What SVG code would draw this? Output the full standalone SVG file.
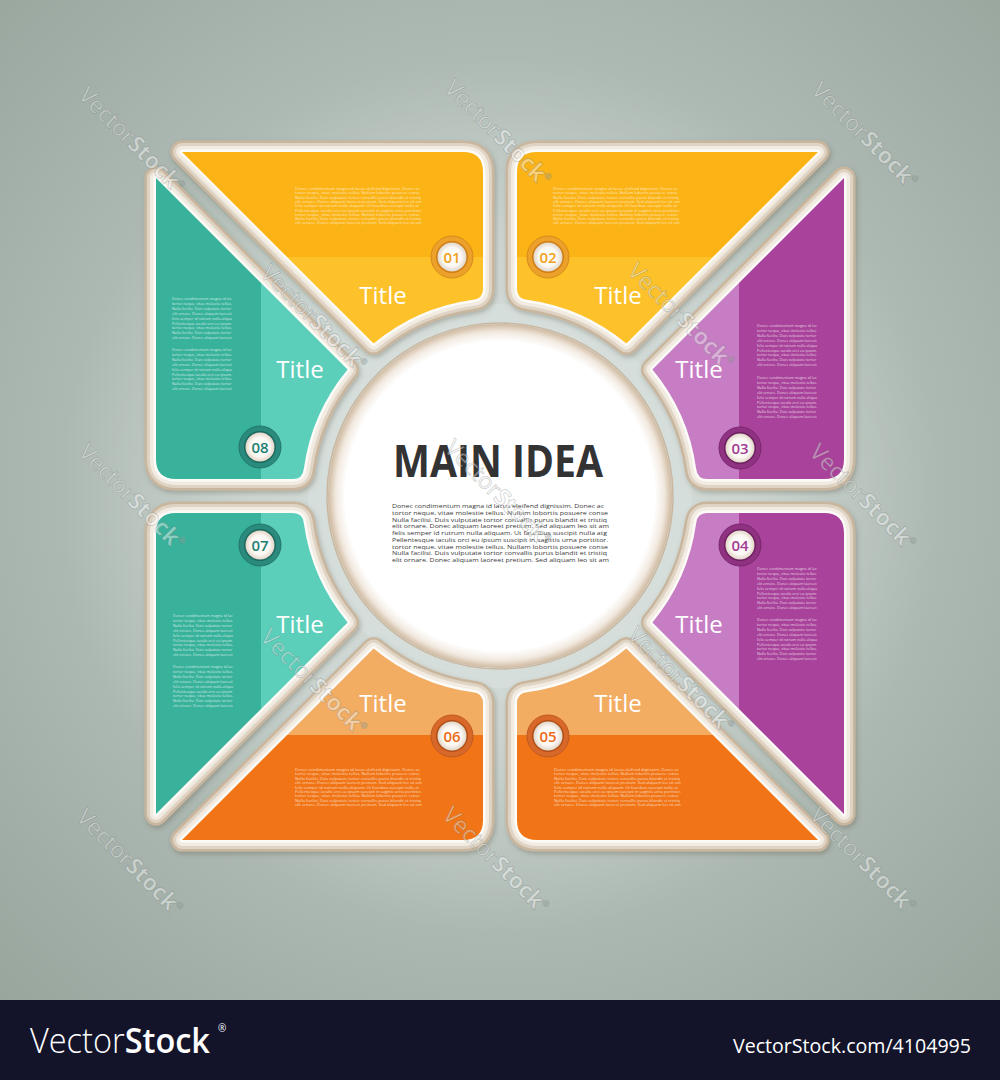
<svg xmlns="http://www.w3.org/2000/svg" xmlns:xlink="http://www.w3.org/1999/xlink" width="1000" height="1080" viewBox="0 0 1000 1080">
<defs>
  <radialGradient id="bg" cx="500" cy="480" r="720" gradientUnits="userSpaceOnUse">
    <stop offset="0" stop-color="#cdd6d2"/>
    <stop offset="0.5" stop-color="#b2bdb7"/>
    <stop offset="1" stop-color="#98a69e"/>
  </radialGradient>
  <radialGradient id="plate" cx="500" cy="496" r="440" gradientUnits="userSpaceOnUse">
    <stop offset="0" stop-color="#d8e1de" stop-opacity="1"/>
    <stop offset="0.55" stop-color="#d0d9d5" stop-opacity="0.9"/>
    <stop offset="0.8" stop-color="#c8d2ce" stop-opacity="0.45"/>
    <stop offset="1" stop-color="#c0cac6" stop-opacity="0"/>
  </radialGradient>
  <radialGradient id="cg" cx="500" cy="496" r="172" gradientUnits="userSpaceOnUse">
    <stop offset="0" stop-color="#ffffff"/>
    <stop offset="0.9" stop-color="#ffffff"/>
    <stop offset="0.955" stop-color="#f1e9df"/>
    <stop offset="1" stop-color="#cfb9a0"/>
  </radialGradient>
  <radialGradient id="bi" cx="0.5" cy="0.5" r="0.5">
    <stop offset="0" stop-color="#ffffff"/>
    <stop offset="0.65" stop-color="#fbf8f4"/>
    <stop offset="1" stop-color="#e2d6c8"/>
  </radialGradient>
  <path id="P" d="M-318,-344 L-37,-344 Q-17,-344 -17,-324 L-17,-207 Q-17,-197.3 -27,-196.2 A198,198 0 0 0 -126.4,-152.4 Z"/>
  <clipPath id="pc"><use xlink:href="#P"/></clipPath>
  <filter id="sh" x="-10%" y="-10%" width="125%" height="125%">
    <feDropShadow dx="1.5" dy="2.5" stdDeviation="2.5" flood-color="#5e5445" flood-opacity="0.35"/>
  </filter>
  <style>
    .b1{fill:none;stroke:#c9b69e;stroke-width:23;stroke-linejoin:round}
    .b2{fill:none;stroke:#dfd3c3;stroke-width:18;stroke-linejoin:round}
    .b3{fill:none;stroke:#f1ebe2;stroke-width:12;stroke-linejoin:round}
    .b4{fill:none;stroke:#fdfbf8;stroke-width:5;stroke-linejoin:round}
    .yd{fill:#fbb316}.yl{fill:#fdc22b}
    .td{fill:#37b29b}.tl{fill:#5ccfbb}
    .pd{fill:#a8429a}.pl{fill:#c77dc4}
    .od{fill:#f17512}.ol{fill:#f2ad63}
    text{font-family:"Open Sans","Liberation Sans",sans-serif}
    .ttl{font-size:24px;fill:#ffffff;text-anchor:middle}
    .num{font-size:15px;font-weight:600;text-anchor:middle}
    .sw{font-size:4.1px;fill:#ffffff;fill-opacity:0.72}
    .sn{font-size:3.75px;fill:#ffffff;fill-opacity:0.75}
    .mb{font-size:5.4px;fill:#3b3b3b}
    .wm{font-size:23px;fill:#ffffff;fill-opacity:0.42;stroke:#56625c;stroke-opacity:0.3;stroke-width:0.8;text-anchor:middle}
  </style>
</defs>

<rect width="1000" height="1000" fill="url(#bg)"/>
<circle cx="500" cy="496" r="440" fill="url(#plate)"/>
<circle cx="500" cy="496" r="192" fill="#d5dedb"/>

<!-- 01 -->
<g id="node01">
  <g filter="url(#sh)"><g transform="translate(500,496)">
    <use xlink:href="#P" class="b1"/><use xlink:href="#P" class="b2"/><use xlink:href="#P" class="b3"/><use xlink:href="#P" class="b4"/>
    <g clip-path="url(#pc)"><rect class="yd" x="-400" y="-400" width="400" height="161"/><rect class="yl" x="-400" y="-239" width="400" height="300"/></g>
  </g></g>
  <text class="sw"><tspan x="295" y="190">Donec condimentum magna id lacus eleifend dignissim. Donec ac</tspan><tspan x="295" y="194.3">tortor neque, vitae molestie tellus. Nullam lobortis posuere  conse</tspan><tspan x="295" y="198.6">Nulla facilisi. Duis vulputate tortor convallis purus blandit et tristiq</tspan><tspan x="295" y="202.9">elit ornare. Donec aliquam laoreet pretium. Sed aliquam leo sit am</tspan><tspan x="295" y="207.2">felis semper id rutrum nulla aliquam. Ut faucibus suscipit nulla at</tspan><tspan x="295" y="211.5">Pellentesque iaculis orci eu ipsum suscipit in sagittis urna porttitor.</tspan><tspan x="295" y="215.8">tortor neque, vitae molestie tellus. Nullam lobortis posuere  conse</tspan><tspan x="295" y="220.1">Nulla facilisi. Duis vulputate tortor convallis purus blandit et tristiq</tspan><tspan x="295" y="224.4">elit ornare. Donec aliquam laoreet pretium. Sed aliquam leo sit am</tspan></text>
  <circle cx="452" cy="257" r="21" fill="#eba12a" stroke="#d88a1c" stroke-width="1"/>
  <circle cx="452" cy="257" r="16" fill="#cf7b13"/>
  <circle cx="452" cy="257" r="14.5" fill="url(#bi)"/>
  <text class="num" x="452" y="262.5" fill="#f0a11b">01</text>
  <text class="ttl" x="383" y="304">Title</text>
</g>

<!-- 02 -->
<g id="node02">
  <g filter="url(#sh)"><g transform="translate(500,496) scale(-1,1)">
    <use xlink:href="#P" class="b1"/><use xlink:href="#P" class="b2"/><use xlink:href="#P" class="b3"/><use xlink:href="#P" class="b4"/>
    <g clip-path="url(#pc)"><rect class="yd" x="-400" y="-400" width="400" height="161"/><rect class="yl" x="-400" y="-239" width="400" height="300"/></g>
  </g></g>
  <text class="sw"><tspan x="553" y="190">Donec condimentum magna id lacus eleifend dignissim. Donec ac</tspan><tspan x="553" y="194.3">tortor neque, vitae molestie tellus. Nullam lobortis posuere  conse</tspan><tspan x="553" y="198.6">Nulla facilisi. Duis vulputate tortor convallis purus blandit et tristiq</tspan><tspan x="553" y="202.9">elit ornare. Donec aliquam laoreet pretium. Sed aliquam leo sit am</tspan><tspan x="553" y="207.2">felis semper id rutrum nulla aliquam. Ut faucibus suscipit nulla at</tspan><tspan x="553" y="211.5">Pellentesque iaculis orci eu ipsum suscipit in sagittis urna porttitor.</tspan><tspan x="553" y="215.8">tortor neque, vitae molestie tellus. Nullam lobortis posuere  conse</tspan><tspan x="553" y="220.1">Nulla facilisi. Duis vulputate tortor convallis purus blandit et tristiq</tspan><tspan x="553" y="224.4">elit ornare. Donec aliquam laoreet pretium. Sed aliquam leo sit am</tspan></text>
  <circle cx="548" cy="257" r="21" fill="#eba12a" stroke="#d88a1c" stroke-width="1"/>
  <circle cx="548" cy="257" r="16" fill="#cf7b13"/>
  <circle cx="548" cy="257" r="14.5" fill="url(#bi)"/>
  <text class="num" x="548" y="262.5" fill="#f0a11b">02</text>
  <text class="ttl" x="618" y="304">Title</text>
</g>

<!-- 03 -->
<g id="node03">
  <g filter="url(#sh)"><g transform="translate(500,496) matrix(0,1,-1,0,0,0)">
    <use xlink:href="#P" class="b1"/><use xlink:href="#P" class="b2"/><use xlink:href="#P" class="b3"/><use xlink:href="#P" class="b4"/>
    <g clip-path="url(#pc)"><rect class="pd" x="-400" y="-400" width="400" height="161"/><rect class="pl" x="-400" y="-239" width="400" height="300"/></g>
  </g></g>
  <text class="sn"><tspan x="757" y="327">Donec condimentum magna id lac</tspan><tspan x="757" y="331.9">tortor neque, vitae molestie tellus.</tspan><tspan x="757" y="336.8">Nulla facilisi. Duis vulputate tortor</tspan><tspan x="757" y="341.7">elit ornare. Donec aliquam laoreet</tspan><tspan x="757" y="346.6">felis semper id rutrum nulla aliqua</tspan><tspan x="757" y="351.5">Pellentesque iaculis orci eu ipsum.</tspan><tspan x="757" y="356.4">tortor neque, vitae molestie tellus.</tspan><tspan x="757" y="361.3">Nulla facilisi. Duis vulputate tortor</tspan><tspan x="757" y="366.2">elit ornare. Donec aliquam laoreet</tspan></text>
  <text class="sn"><tspan x="757" y="379">Donec condimentum magna id lac</tspan><tspan x="757" y="383.9">tortor neque, vitae molestie tellus.</tspan><tspan x="757" y="388.8">Nulla facilisi. Duis vulputate tortor</tspan><tspan x="757" y="393.7">elit ornare. Donec aliquam laoreet</tspan><tspan x="757" y="398.6">felis semper id rutrum nulla aliqua</tspan><tspan x="757" y="403.5">Pellentesque iaculis orci eu ipsum.</tspan><tspan x="757" y="408.4">tortor neque, vitae molestie tellus.</tspan><tspan x="757" y="413.3">Nulla facilisi. Duis vulputate tortor</tspan><tspan x="757" y="418.2">elit ornare. Donec aliquam laoreet</tspan></text>
  <circle cx="740" cy="448" r="21" fill="#8f3282" stroke="#7a276d" stroke-width="1"/>
  <circle cx="740" cy="448" r="16" fill="#6c1f5f"/>
  <circle cx="740" cy="448" r="14.5" fill="url(#bi)"/>
  <text class="num" x="740" y="453.5" fill="#a13c93">03</text>
  <text class="ttl" x="699" y="378">Title</text>
</g>

<!-- 04 -->
<g id="node04">
  <g filter="url(#sh)"><g transform="translate(500,496) matrix(0,-1,-1,0,0,0)">
    <use xlink:href="#P" class="b1"/><use xlink:href="#P" class="b2"/><use xlink:href="#P" class="b3"/><use xlink:href="#P" class="b4"/>
    <g clip-path="url(#pc)"><rect class="pd" x="-400" y="-400" width="400" height="161"/><rect class="pl" x="-400" y="-239" width="400" height="300"/></g>
  </g></g>
  <text class="sn"><tspan x="757" y="570">Donec condimentum magna id lac</tspan><tspan x="757" y="574.9">tortor neque, vitae molestie tellus.</tspan><tspan x="757" y="579.8">Nulla facilisi. Duis vulputate tortor</tspan><tspan x="757" y="584.7">elit ornare. Donec aliquam laoreet</tspan><tspan x="757" y="589.6">felis semper id rutrum nulla aliqua</tspan><tspan x="757" y="594.5">Pellentesque iaculis orci eu ipsum.</tspan><tspan x="757" y="599.4">tortor neque, vitae molestie tellus.</tspan><tspan x="757" y="604.3">Nulla facilisi. Duis vulputate tortor</tspan><tspan x="757" y="609.2">elit ornare. Donec aliquam laoreet</tspan></text>
  <text class="sn"><tspan x="757" y="621">Donec condimentum magna id lac</tspan><tspan x="757" y="625.9">tortor neque, vitae molestie tellus.</tspan><tspan x="757" y="630.8">Nulla facilisi. Duis vulputate tortor</tspan><tspan x="757" y="635.7">elit ornare. Donec aliquam laoreet</tspan><tspan x="757" y="640.6">felis semper id rutrum nulla aliqua</tspan><tspan x="757" y="645.5">Pellentesque iaculis orci eu ipsum.</tspan><tspan x="757" y="650.4">tortor neque, vitae molestie tellus.</tspan><tspan x="757" y="655.3">Nulla facilisi. Duis vulputate tortor</tspan><tspan x="757" y="660.2">elit ornare. Donec aliquam laoreet</tspan></text>
  <circle cx="740" cy="545" r="21" fill="#8f3282" stroke="#7a276d" stroke-width="1"/>
  <circle cx="740" cy="545" r="16" fill="#6c1f5f"/>
  <circle cx="740" cy="545" r="14.5" fill="url(#bi)"/>
  <text class="num" x="740" y="550.5" fill="#a13c93">04</text>
  <text class="ttl" x="699" y="633">Title</text>
</g>

<!-- 05 -->
<g id="node05">
  <g filter="url(#sh)"><g transform="translate(500,496) scale(-1,-1)">
    <use xlink:href="#P" class="b1"/><use xlink:href="#P" class="b2"/><use xlink:href="#P" class="b3"/><use xlink:href="#P" class="b4"/>
    <g clip-path="url(#pc)"><rect class="od" x="-400" y="-400" width="400" height="161"/><rect class="ol" x="-400" y="-239" width="400" height="300"/></g>
  </g></g>
  <text class="sw"><tspan x="554" y="771">Donec condimentum magna id lacus eleifend dignissim. Donec ac</tspan><tspan x="554" y="775.4">tortor neque, vitae molestie tellus. Nullam lobortis posuere  conse</tspan><tspan x="554" y="779.8">Nulla facilisi. Duis vulputate tortor convallis purus blandit et tristiq</tspan><tspan x="554" y="784.2">elit ornare. Donec aliquam laoreet pretium. Sed aliquam leo sit am</tspan><tspan x="554" y="788.6">felis semper id rutrum nulla aliquam. Ut faucibus suscipit nulla at</tspan><tspan x="554" y="793">Pellentesque iaculis orci eu ipsum suscipit in sagittis urna porttitor.</tspan><tspan x="554" y="797.4">tortor neque, vitae molestie tellus. Nullam lobortis posuere  conse</tspan><tspan x="554" y="801.8">Nulla facilisi. Duis vulputate tortor convallis purus blandit et tristiq</tspan><tspan x="554" y="806.2">elit ornare. Donec aliquam laoreet pretium. Sed aliquam leo sit am</tspan></text>
  <circle cx="548" cy="736" r="21" fill="#d8672a" stroke="#c05a20" stroke-width="1"/>
  <circle cx="548" cy="736" r="16" fill="#b04f16"/>
  <circle cx="548" cy="736" r="14.5" fill="url(#bi)"/>
  <text class="num" x="548" y="741.5" fill="#ec6a17">05</text>
  <text class="ttl" x="618" y="712">Title</text>
</g>

<!-- 06 -->
<g id="node06">
  <g filter="url(#sh)"><g transform="translate(500,496) scale(1,-1)">
    <use xlink:href="#P" class="b1"/><use xlink:href="#P" class="b2"/><use xlink:href="#P" class="b3"/><use xlink:href="#P" class="b4"/>
    <g clip-path="url(#pc)"><rect class="od" x="-400" y="-400" width="400" height="161"/><rect class="ol" x="-400" y="-239" width="400" height="300"/></g>
  </g></g>
  <text class="sw"><tspan x="295" y="771">Donec condimentum magna id lacus eleifend dignissim. Donec ac</tspan><tspan x="295" y="775.4">tortor neque, vitae molestie tellus. Nullam lobortis posuere  conse</tspan><tspan x="295" y="779.8">Nulla facilisi. Duis vulputate tortor convallis purus blandit et tristiq</tspan><tspan x="295" y="784.2">elit ornare. Donec aliquam laoreet pretium. Sed aliquam leo sit am</tspan><tspan x="295" y="788.6">felis semper id rutrum nulla aliquam. Ut faucibus suscipit nulla at</tspan><tspan x="295" y="793">Pellentesque iaculis orci eu ipsum suscipit in sagittis urna porttitor.</tspan><tspan x="295" y="797.4">tortor neque, vitae molestie tellus. Nullam lobortis posuere  conse</tspan><tspan x="295" y="801.8">Nulla facilisi. Duis vulputate tortor convallis purus blandit et tristiq</tspan><tspan x="295" y="806.2">elit ornare. Donec aliquam laoreet pretium. Sed aliquam leo sit am</tspan></text>
  <circle cx="452" cy="736" r="21" fill="#d8672a" stroke="#c05a20" stroke-width="1"/>
  <circle cx="452" cy="736" r="16" fill="#b04f16"/>
  <circle cx="452" cy="736" r="14.5" fill="url(#bi)"/>
  <text class="num" x="452" y="741.5" fill="#ec6a17">06</text>
  <text class="ttl" x="383" y="712">Title</text>
</g>

<!-- 07 -->
<g id="node07">
  <g filter="url(#sh)"><g transform="translate(500,496) matrix(0,-1,1,0,0,0)">
    <use xlink:href="#P" class="b1"/><use xlink:href="#P" class="b2"/><use xlink:href="#P" class="b3"/><use xlink:href="#P" class="b4"/>
    <g clip-path="url(#pc)"><rect class="td" x="-400" y="-400" width="400" height="161"/><rect class="tl" x="-400" y="-239" width="400" height="300"/></g>
  </g></g>
  <text class="sn"><tspan x="173" y="617">Donec condimentum magna id lac</tspan><tspan x="173" y="621.9">tortor neque, vitae molestie tellus.</tspan><tspan x="173" y="626.8">Nulla facilisi. Duis vulputate tortor</tspan><tspan x="173" y="631.7">elit ornare. Donec aliquam laoreet</tspan><tspan x="173" y="636.6">felis semper id rutrum nulla aliqua</tspan><tspan x="173" y="641.5">Pellentesque iaculis orci eu ipsum.</tspan><tspan x="173" y="646.4">tortor neque, vitae molestie tellus.</tspan><tspan x="173" y="651.3">Nulla facilisi. Duis vulputate tortor</tspan><tspan x="173" y="656.2">elit ornare. Donec aliquam laoreet</tspan></text>
  <text class="sn"><tspan x="173" y="668">Donec condimentum magna id lac</tspan><tspan x="173" y="672.9">tortor neque, vitae molestie tellus.</tspan><tspan x="173" y="677.8">Nulla facilisi. Duis vulputate tortor</tspan><tspan x="173" y="682.7">elit ornare. Donec aliquam laoreet</tspan><tspan x="173" y="687.6">felis semper id rutrum nulla aliqua</tspan><tspan x="173" y="692.5">Pellentesque iaculis orci eu ipsum.</tspan><tspan x="173" y="697.4">tortor neque, vitae molestie tellus.</tspan><tspan x="173" y="702.3">Nulla facilisi. Duis vulputate tortor</tspan><tspan x="173" y="707.2">elit ornare. Donec aliquam laoreet</tspan></text>
  <circle cx="260" cy="545" r="21" fill="#2b8a7e" stroke="#22766b" stroke-width="1"/>
  <circle cx="260" cy="545" r="16" fill="#1b675d"/>
  <circle cx="260" cy="545" r="14.5" fill="url(#bi)"/>
  <text class="num" x="260" y="550.5" fill="#1f7f71">07</text>
  <text class="ttl" x="300" y="633">Title</text>
</g>

<!-- 08 -->
<g id="node08">
  <g filter="url(#sh)"><g transform="translate(500,496) matrix(0,1,1,0,0,0)">
    <use xlink:href="#P" class="b1"/><use xlink:href="#P" class="b2"/><use xlink:href="#P" class="b3"/><use xlink:href="#P" class="b4"/>
    <g clip-path="url(#pc)"><rect class="td" x="-400" y="-400" width="400" height="161"/><rect class="tl" x="-400" y="-239" width="400" height="300"/></g>
  </g></g>
  <text class="sn"><tspan x="172" y="300">Donec condimentum magna id lac</tspan><tspan x="172" y="304.9">tortor neque, vitae molestie tellus.</tspan><tspan x="172" y="309.8">Nulla facilisi. Duis vulputate tortor</tspan><tspan x="172" y="314.7">elit ornare. Donec aliquam laoreet</tspan><tspan x="172" y="319.6">felis semper id rutrum nulla aliqua</tspan><tspan x="172" y="324.5">Pellentesque iaculis orci eu ipsum.</tspan><tspan x="172" y="329.4">tortor neque, vitae molestie tellus.</tspan><tspan x="172" y="334.3">Nulla facilisi. Duis vulputate tortor</tspan><tspan x="172" y="339.2">elit ornare. Donec aliquam laoreet</tspan></text>
  <text class="sn"><tspan x="172" y="351">Donec condimentum magna id lac</tspan><tspan x="172" y="355.9">tortor neque, vitae molestie tellus.</tspan><tspan x="172" y="360.8">Nulla facilisi. Duis vulputate tortor</tspan><tspan x="172" y="365.7">elit ornare. Donec aliquam laoreet</tspan><tspan x="172" y="370.6">felis semper id rutrum nulla aliqua</tspan><tspan x="172" y="375.5">Pellentesque iaculis orci eu ipsum.</tspan><tspan x="172" y="380.4">tortor neque, vitae molestie tellus.</tspan><tspan x="172" y="385.3">Nulla facilisi. Duis vulputate tortor</tspan><tspan x="172" y="390.2">elit ornare. Donec aliquam laoreet</tspan></text>
  <circle cx="260" cy="447" r="21" fill="#2b8a7e" stroke="#22766b" stroke-width="1"/>
  <circle cx="260" cy="447" r="16" fill="#1b675d"/>
  <circle cx="260" cy="447" r="14.5" fill="url(#bi)"/>
  <text class="num" x="260" y="452.5" fill="#1f7f71">08</text>
  <text class="ttl" x="300" y="378">Title</text>
</g>

<!-- main idea -->
<g id="main">
  <circle cx="500" cy="496" r="173" fill="none" stroke="#c9b7a0" stroke-width="1.5"/>
  <circle cx="500" cy="496" r="172" fill="url(#cg)"/>
  <text x="498" y="477" font-size="44" font-weight="700" fill="#333333" text-anchor="middle" textLength="210" lengthAdjust="spacingAndGlyphs">MAIN IDEA</text>
  <text class="mb" x="392" y="508" textLength="212" lengthAdjust="spacingAndGlyphs">Donec condimentum magna id lacus eleifend dignissim. Donec ac</text>
  <text class="mb" x="392" y="514.75" textLength="216" lengthAdjust="spacingAndGlyphs">tortor neque, vitae molestie tellus. Nullam lobortis posuere  conse</text>
  <text class="mb" x="392" y="521.5" textLength="215" lengthAdjust="spacingAndGlyphs">Nulla facilisi. Duis vulputate tortor convallis purus blandit et tristiq</text>
  <text class="mb" x="392" y="528.25" textLength="217" lengthAdjust="spacingAndGlyphs">elit ornare. Donec aliquam laoreet pretium. Sed aliquam leo sit am</text>
  <text class="mb" x="392" y="535" textLength="215" lengthAdjust="spacingAndGlyphs">felis semper id rutrum nulla aliquam. Ut faucibus suscipit nulla atg</text>
  <text class="mb" x="392" y="541.75" textLength="216" lengthAdjust="spacingAndGlyphs">Pellentesque iaculis orci eu ipsum suscipit in sagittis urna porttitor.</text>
  <text class="mb" x="392" y="548.5" textLength="216" lengthAdjust="spacingAndGlyphs">tortor neque, vitae molestie tellus. Nullam lobortis posuere  conse</text>
  <text class="mb" x="392" y="555.25" textLength="215" lengthAdjust="spacingAndGlyphs">Nulla facilisi. Duis vulputate tortor convallis purus blandit et tristiq</text>
  <text class="mb" x="392" y="562" textLength="217" lengthAdjust="spacingAndGlyphs">elit ornare. Donec aliquam laoreet pretium. Sed aliquam leo sit am</text>
</g>

<g id="connectors"></g>

<!-- watermarks -->
<g id="watermarks">
  <text class="wm" transform="translate(132,140) rotate(45)" y="8"><tspan font-weight="400">Vector</tspan><tspan font-weight="700">Stock</tspan><tspan font-size="8" dy="-10">®</tspan></text>
  <text class="wm" transform="translate(498,133) rotate(45)" y="8"><tspan font-weight="400">Vector</tspan><tspan font-weight="700">Stock</tspan><tspan font-size="8" dy="-10">®</tspan></text>
  <text class="wm" transform="translate(865,135) rotate(45)" y="8"><tspan font-weight="400">Vector</tspan><tspan font-weight="700">Stock</tspan><tspan font-size="8" dy="-10">®</tspan></text>
  <text class="wm" transform="translate(314,318) rotate(45)" y="8"><tspan font-weight="400">Vector</tspan><tspan font-weight="700">Stock</tspan><tspan font-size="8" dy="-10">®</tspan></text>
  <text class="wm" transform="translate(681,316) rotate(45)" y="8"><tspan font-weight="400">Vector</tspan><tspan font-weight="700">Stock</tspan><tspan font-size="8" dy="-10">®</tspan></text>
  <text class="wm" transform="translate(132,497) rotate(45)" y="8"><tspan font-weight="400">Vector</tspan><tspan font-weight="700">Stock</tspan><tspan font-size="8" dy="-10">®</tspan></text>
  <text class="wm" transform="translate(498,493) rotate(45)" y="8"><tspan font-weight="400">Vector</tspan><tspan font-weight="700">Stock</tspan><tspan font-size="8" dy="-10">®</tspan></text>
  <text class="wm" transform="translate(863,497) rotate(45)" y="8"><tspan font-weight="400">Vector</tspan><tspan font-weight="700">Stock</tspan><tspan font-size="8" dy="-10">®</tspan></text>
  <text class="wm" transform="translate(314,682) rotate(45)" y="8"><tspan font-weight="400">Vector</tspan><tspan font-weight="700">Stock</tspan><tspan font-size="8" dy="-10">®</tspan></text>
  <text class="wm" transform="translate(681,680) rotate(45)" y="8"><tspan font-weight="400">Vector</tspan><tspan font-weight="700">Stock</tspan><tspan font-size="8" dy="-10">®</tspan></text>
  <text class="wm" transform="translate(130,862) rotate(45)" y="8"><tspan font-weight="400">Vector</tspan><tspan font-weight="700">Stock</tspan><tspan font-size="8" dy="-10">®</tspan></text>
  <text class="wm" transform="translate(496,860) rotate(45)" y="8"><tspan font-weight="400">Vector</tspan><tspan font-weight="700">Stock</tspan><tspan font-size="8" dy="-10">®</tspan></text>
  <text class="wm" transform="translate(863,860) rotate(45)" y="8"><tspan font-weight="400">Vector</tspan><tspan font-weight="700">Stock</tspan><tspan font-size="8" dy="-10">®</tspan></text>
</g>

<!-- footer -->
<g id="footer">
  <rect x="0" y="1000" width="1000" height="80" fill="#13142a"/>
  <text x="30" y="1053" font-size="35" fill="#ffffff" textLength="180" lengthAdjust="spacingAndGlyphs"><tspan font-weight="300">Vector</tspan><tspan font-weight="600">Stock</tspan></text>
  <text x="218" y="1032" font-size="10" fill="#ffffff">®</text>
  <text x="971" y="1053" font-size="20" fill="#ffffff" text-anchor="end" textLength="238" lengthAdjust="spacingAndGlyphs">VectorStock.com/4104995</text>
</g>
</svg>
